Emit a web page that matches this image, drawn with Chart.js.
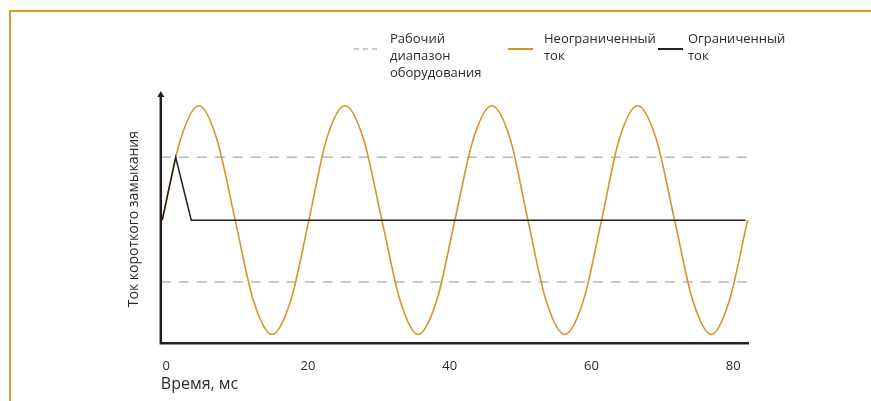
<!DOCTYPE html>
<html lang="ru">
<head>
<meta charset="utf-8">
<title>Ток короткого замыкания</title>
<script src="https://cdn.jsdelivr.net/npm/chart.js@4.4.1/dist/chart.umd.min.js"></script>
<style>
    html, body { margin: 0; padding: 0; background: #fff; }
    body {
        width: 871px;
        height: 401px;
        position: relative;
        overflow: hidden;
        font-family: 'Open Sans', sans-serif;
    }
    #frame {
        position: absolute;
        left: 9px;
        top: 10px;
        width: 880px;
        height: 420px;
        border-top: 2px solid #dc9a2b;
        border-left: 2px solid #dc9a2b;
    }
    #chartBox { position: absolute; left: 0; top: 0; width: 871px; height: 401px; }
    .legend-sample { position: absolute; top: 47px; }
    .legend-text {
        position: absolute;
        top: 30px;
        font-size: 13px;
        line-height: 17px;
        color: #2b2b2b;
        white-space: nowrap;
    }
</style>
</head>
<body>
<div id="frame"></div>
<div id="chartBox"><canvas id="currentChart" width="871" height="401"></canvas></div>
<div id="legend"></div>

<script>
// Values (time in ms, current in relative units)

// Unlimited short-circuit current (sine)
const sineTime = [
    0, 2.6, 5.2, 7.7, 10.3, 12.9, 15.5, 18.1,
    20.7, 23.2, 25.8, 28.4, 31.0, 33.6, 36.1, 38.7,
    41.3, 43.9, 46.5, 49.1, 51.6, 54.2, 56.8, 59.4,
    62.0, 64.5, 67.1, 69.7, 72.3, 74.9, 77.5, 80.0,
    82.6
];
const sineValue = [
    0, 0.71, 1, 0.71, 0, -0.71, -1, -0.71,
    0, 0.71, 1, 0.71, 0, -0.71, -1, -0.71,
    0, 0.71, 1, 0.71, 0, -0.71, -1, -0.71,
    0, 0.71, 1, 0.71, 0, -0.71, -1, -0.71,
    0
];

// Limited current
const limitedTime = [0, 1.9, 4.1, 82.3];
const limitedValue = [0, 0.55, 0, 0];

// Equipment operating range (dashed)
const rangeTime = [-0.2, 82.8];
const rangeUpper = [0.55, 0.55];
const rangeLower = [-0.54, -0.54];

const xTicks = [0, 20, 40, 60, 80];

const legendLabels = {
    range: ['Рабочий', 'диапазон', 'оборудования'],
    unlimited: ['Неограниченный', 'ток'],
    limited: ['Ограниченный', 'ток']
};

const COLORS = {
    SINE: '#d4952a',
    LIMITED: '#231f20',
    RANGE: '#b8b8b8',
    AXIS: '#231f20',
    TEXT: '#2b2b2b'
};

const FONT = "'Open Sans', sans-serif";

// legend placement (sample left, text left)
const LEGEND_POS = [
    { key: 'range', sample: 354, text: 390 },
    { key: 'unlimited', sample: 508, text: 544 },
    { key: 'limited', sample: 658, text: 688 }
];

function toPoints(xs, ys) {
    return xs.map((x, i) => ({ x: x, y: ys[i] }));
}

// Draw the two axis lines and the arrow on top of the y axis
const axesPlugin = {
    id: 'axesArrow',
    afterDatasetsDraw(chart) {
        const { ctx, chartArea } = chart;
        ctx.save();
        ctx.strokeStyle = COLORS.AXIS;
        ctx.fillStyle = COLORS.AXIS;
        ctx.lineWidth = 2.5;
        ctx.beginPath();
        ctx.moveTo(chartArea.left, chartArea.bottom);
        ctx.lineTo(chartArea.right, chartArea.bottom);
        ctx.stroke();
        ctx.beginPath();
        ctx.moveTo(chartArea.left, chartArea.bottom + 1.2);
        ctx.lineTo(chartArea.left, chartArea.top);
        ctx.stroke();
        ctx.beginPath();
        ctx.moveTo(chartArea.left, chartArea.top - 4);
        ctx.lineTo(chartArea.left - 3.5, chartArea.top + 2);
        ctx.lineTo(chartArea.left + 3.5, chartArea.top + 2);
        ctx.closePath();
        ctx.fill();
        ctx.restore();
    }
};

const ctx = document.getElementById('currentChart').getContext('2d');

const currentChart = new Chart(ctx, {
    type: 'line',
    data: {
        datasets: [
            {
                label: 'Ограниченный ток',
                legendKey: 'limited',
                data: toPoints(limitedTime, limitedValue),
                borderColor: COLORS.LIMITED,
                borderWidth: 1.5,
                pointRadius: 0,
                tension: 0,
                fill: false
            },
            {
                label: 'Неограниченный ток',
                legendKey: 'unlimited',
                data: toPoints(sineTime, sineValue),
                borderColor: COLORS.SINE,
                borderWidth: 1.6,
                pointRadius: 0,
                cubicInterpolationMode: 'monotone',
                fill: false
            },
            {
                label: 'Рабочий диапазон оборудования',
                legendKey: 'range',
                data: toPoints(rangeTime, rangeUpper),
                borderColor: COLORS.RANGE,
                borderWidth: 1.5,
                borderDash: [10, 8],
                pointRadius: 0,
                fill: false
            },
            {
                label: 'Рабочий диапазон оборудования (низ)',
                data: toPoints(rangeTime, rangeLower),
                borderColor: COLORS.RANGE,
                borderWidth: 1.5,
                borderDash: [10, 8],
                pointRadius: 0,
                fill: false
            }
        ]
    },
    options: {
        responsive: false,
        animation: false,
        layout: {
            padding: { left: 126, right: 122, top: 95, bottom: 0 }
        },
        scales: {
            x: {
                type: 'linear',
                min: -0.2,
                max: 82.8,
                afterBuildTicks: (scale) => {
                    scale.ticks = xTicks.map(v => ({ value: v }));
                },
                grid: { display: false, drawTicks: false },
                border: { display: false },
                ticks: {
                    color: COLORS.TEXT,
                    font: { family: FONT, size: 13 },
                    padding: 15,
                    labelOffset: 4,
                    maxRotation: 0
                },
                title: {
                    display: true,
                    text: 'Время, мс',
                    align: 'start',
                    color: COLORS.TEXT,
                    font: { family: FONT, size: 16 },
                    padding: { top: -14, bottom: 7 }
                }
            },
            y: {
                min: -1.076,
                max: 1.094,
                grid: { display: false, drawTicks: false },
                border: { display: false },
                ticks: { display: false },
                title: {
                    display: true,
                    text: 'Ток короткого замыкания',
                    color: COLORS.TEXT,
                    font: { family: FONT, size: 14 },
                    padding: { top: 0, bottom: 18 }
                }
            }
        },
        plugins: {
            legend: { display: false },
            tooltip: { enabled: false }
        }
    },
    plugins: [axesPlugin]
});

// HTML legend built from the datasets
function buildLegend(chart) {
    const box = document.getElementById('legend');
    LEGEND_POS.forEach(pos => {
        const ds = chart.data.datasets.find(d => d.legendKey === pos.key);
        const svgNS = 'http://www.w3.org/2000/svg';
        const svg = document.createElementNS(svgNS, 'svg');
        svg.setAttribute('class', 'legend-sample');
        svg.setAttribute('width', '25');
        svg.setAttribute('height', '4');
        svg.style.left = pos.sample + 'px';
        const line = document.createElementNS(svgNS, 'line');
        line.setAttribute('x1', '0');
        line.setAttribute('x2', '25');
        line.setAttribute('y1', '2');
        line.setAttribute('y2', '2');
        line.setAttribute('stroke', ds.borderColor);
        line.setAttribute('stroke-width', pos.key === 'range' ? '1.5' : '2');
        if (ds.borderDash) {
            line.setAttribute('stroke-dasharray', '5 4');
        }
        svg.appendChild(line);
        box.appendChild(svg);

        const text = document.createElement('div');
        text.className = 'legend-text';
        text.style.left = pos.text + 'px';
        text.innerHTML = legendLabels[pos.key].join('<br>');
        box.appendChild(text);
    });
}

buildLegend(currentChart);
</script>
</body>
</html>
